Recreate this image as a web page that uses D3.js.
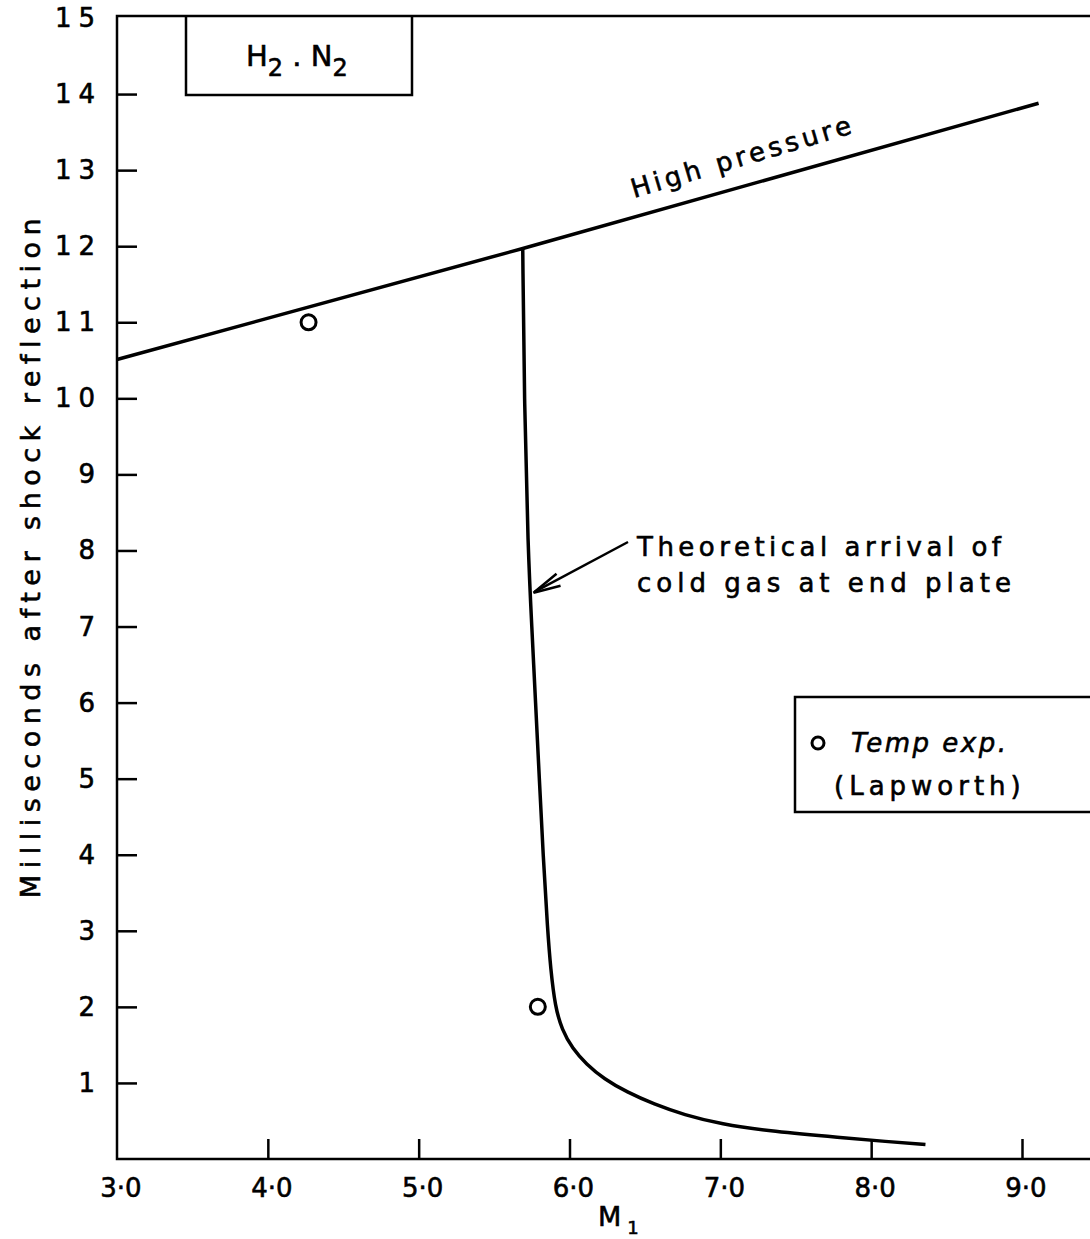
<!DOCTYPE html>
<html>
<head>
<meta charset="utf-8">
<script src="https://cdn.jsdelivr.net/npm/d3@7"></script>
<style>
  body { margin: 0; background: #fff; }
  svg text { font-family: "DejaVu Sans", sans-serif; fill: #000; stroke: #000; stroke-width: 0.6px; }
</style>
</head>
<body>
<div id="chart"></div>
<script>
// Data
const xTicks = [3, 4, 5, 6, 7, 8, 9];
const xTickLabels = ["3·0", "4·0", "5·0", "6·0", "7·0", "8·0", "9·0"];
const yTicks = [1, 2, 3, 4, 5, 6, 7, 8, 9, 10, 11, 12, 13, 14, 15];

// High pressure line (M1, ms)
const highM = [3.0, 5.69, 9.11];
const highT = [10.51, 11.97, 13.88];

// Theoretical arrival of cold gas at end plate
const coldM = [5.69, 5.70, 5.725, 5.75, 5.775, 5.80, 5.825, 5.855, 5.875, 5.905, 5.95, 6.02, 6.11, 6.23, 6.38, 6.56, 6.76, 7.0, 7.35, 7.8, 8.1, 8.36];
const coldT = [11.97, 10.0, 8.0, 7.0, 6.0, 5.0, 4.0, 3.0, 2.5, 2.0, 1.7, 1.45, 1.25, 1.05, 0.88, 0.72, 0.58, 0.46, 0.36, 0.28, 0.23, 0.19];

// Temp exp. (Lapworth)
const expM = [4.27, 5.79];
const expT = [11.0, 2.0];

const W = 1090, H = 1239;
const x = d3.scaleLinear().domain([3, 9]).range([117, 1022]);
const y = d3.scaleLinear().domain([0, 15]).range([1159, 18]);

const svg = d3.select("#chart").append("svg")
    .attr("width", W).attr("height", H);

// Frame: left axis, bottom axis, top border
const x0 = x(3), yBot = y(0), yTop = 16;
svg.append("path")
    .attr("d", `M${W},${yTop}H${x0}V${yBot}H${W}`)
    .attr("fill", "none").attr("stroke", "#000").attr("stroke-width", 2.5);

// x ticks point inward (up)
const xAxis = svg.append("g").attr("transform", `translate(0,${yBot})`)
    .call(d3.axisTop(x).tickValues(xTicks.slice(1)).tickSize(20).tickFormat(""));
xAxis.select(".domain").remove();
xAxis.selectAll("line").attr("stroke-width", 2.5);

svg.selectAll(".xlab").data(xTicks).enter().append("text")
    .attr("class", "xlab")
    .attr("x", d => x(d) + 4)
    .attr("y", yBot + 38)
    .attr("text-anchor", "middle")
    .style("font-size", "26px")
    .text((d, i) => xTickLabels[i]);

// y ticks point inward (right)
const yAxis = svg.append("g").attr("transform", `translate(${x0},0)`)
    .call(d3.axisRight(y).tickValues(yTicks.slice(0, -1)).tickSize(20).tickFormat(""));
yAxis.select(".domain").remove();
yAxis.selectAll("line").attr("stroke-width", 2.5);

svg.selectAll(".ylab").data(yTicks).enter().append("text")
    .attr("class", "ylab")
    .attr("x", 102)
    .attr("y", d => y(d) + 9)
    .attr("text-anchor", "end")
    .style("font-size", "26px")
    .style("letter-spacing", "7px")
    .text(d => String(d));

// Axis titles
svg.append("text")
    .attr("transform", `translate(40,555) rotate(-90)`)
    .attr("text-anchor", "middle")
    .style("font-size", "27px")
    .style("letter-spacing", "6.5px")
    .text("Milliseconds after shock reflection");

const mLab = svg.append("text")
    .attr("x", 598).attr("y", 1226)
    .style("font-size", "27px");
mLab.append("tspan").text("M");
mLab.append("tspan").attr("dx", 6).attr("dy", 8).style("font-size", "18px").text("1");

// Curves
const line = d3.line().x(d => x(d[0])).y(d => y(d[1]));

svg.append("path")
    .datum(highM.map((m, i) => [m, highT[i]]))
    .attr("d", line)
    .attr("fill", "none").attr("stroke", "#000").attr("stroke-width", 3.5);

svg.append("path")
    .datum(coldM.map((m, i) => [m, coldT[i]]))
    .attr("d", d3.line().x(d => x(d[0])).y(d => y(d[1])).curve(d3.curveBasis))
    .attr("fill", "none").attr("stroke", "#000").attr("stroke-width", 3.5);

// Experimental points
svg.selectAll(".pt").data(expM).enter().append("circle")
    .attr("class", "pt")
    .attr("cx", d => x(d))
    .attr("cy", (d, i) => y(expT[i]))
    .attr("r", 7.5)
    .attr("fill", "none").attr("stroke", "#000").attr("stroke-width", 3);

// High pressure label
svg.append("text")
    .attr("transform", `translate(634,198) rotate(-16.5)`)
    .style("font-size", "26px")
    .style("letter-spacing", "4px")
    .text("High  pressure");

// Annotation with arrow
const tipX = x(5.755), tipY = y(7.43);
svg.append("line")
    .attr("x1", 628).attr("y1", 542).attr("x2", tipX + 2).attr("y2", tipY - 2)
    .attr("stroke", "#000").attr("stroke-width", 2.5);
svg.append("path")
    .attr("d", `M${tipX + 24},${tipY - 20}L${tipX + 1},${tipY - 1}L${tipX + 28},${tipY - 8}`)
    .attr("fill", "none").attr("stroke", "#000").attr("stroke-width", 2.5);

svg.append("text").attr("x", 637).attr("y", 556)
    .style("font-size", "26px").style("letter-spacing", "4.5px")
    .text("Theoretical  arrival  of");
svg.append("text").attr("x", 637).attr("y", 592)
    .style("font-size", "26px").style("letter-spacing", "5px")
    .text("cold  gas  at  end plate");

// H2.N2 box
svg.append("path")
    .attr("d", `M186,${yTop}V95H412V${yTop}`)
    .attr("fill", "none").attr("stroke", "#000").attr("stroke-width", 2.5);
const hn = svg.append("text").attr("x", 246).attr("y", 66).style("font-size", "29px");
hn.append("tspan").text("H");
hn.append("tspan").attr("dy", 10).style("font-size", "24px").text("2");
hn.append("tspan").attr("dy", -10).text(" . N");
hn.append("tspan").attr("dy", 10).style("font-size", "24px").text("2");

// Legend box
svg.append("path")
    .attr("d", `M${W},697H795V812H${W}`)
    .attr("fill", "none").attr("stroke", "#000").attr("stroke-width", 2.5);
svg.append("circle").attr("cx", 818).attr("cy", 743).attr("r", 6)
    .attr("fill", "none").attr("stroke", "#000").attr("stroke-width", 3);
svg.append("text").attr("x", 851).attr("y", 752)
    .style("font-size", "26px").style("letter-spacing", "2.5px")
    .style("font-style", "italic")
    .text("Temp  exp.");
svg.append("text").attr("x", 834).attr("y", 795)
    .style("font-size", "26px").style("letter-spacing", "5px")
    .text("(Lapworth)");
</script>
</body>
</html>
